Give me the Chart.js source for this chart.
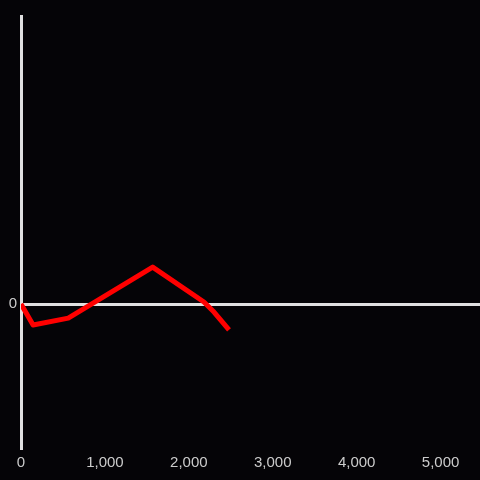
<!DOCTYPE html>
<html><head><meta charset="utf-8">
<script src="https://cdn.jsdelivr.net/npm/chart.js@4"></script>
<style>html,body{margin:0;padding:0;background:#050407;}#w{width:480px;height:480px;}</style>
</head><body><div id="w"><canvas id="c"></canvas></div>
<script>
const xValues = [0, 144, 563, 1569, 2180, 2300, 2479];
const yValues = [0, -0.073, -0.049, 0.128, 0.007, -0.028, -0.09];
const xTicks = [0, 1000, 2000, 3000, 4000, 5000];
const yTicks = [0];

const pts = xValues.map((x, i) => ({x: x, y: yValues[i]}));
new Chart(document.getElementById('c'), {
  type: 'line',
  data: { datasets: [{ data: pts, borderColor: '#ff0000', borderWidth: 5, pointRadius: 0, tension: 0, fill: false, borderJoinStyle: 'round', borderCapStyle: 'butt' }] },
  options: {
    responsive: true, maintainAspectRatio: false, animation: false,
    layout: { padding: { top: 16, right: 0, left: 0, bottom: 0 } },
    plugins: { legend: { display: false }, tooltip: { enabled: false } },
    scales: {
      x: {
        type: 'linear', min: 0, max: 5470,
        afterBuildTicks: s => { s.ticks = xTicks.map(v => ({value: v})); },
        ticks: { color: '#cccccc', font: { family: 'Liberation Sans, Arial', size: 15 }, padding: 6, maxRotation: 0,
          callback: v => v.toLocaleString('en-US') },
        grid: { display: false, drawTicks: false },
        border: { display: false },
        afterFit: s => { s.height = 32; }
      },
      y: {
        min: -0.5, max: 1,
        afterBuildTicks: s => { s.ticks = yTicks.map(v => ({value: v})); },
        ticks: { color: '#cccccc', font: { family: 'Liberation Sans, Arial', size: 15 }, padding: 4 },
        grid: { color: '#e0e0e0', lineWidth: 3, drawTicks: false },
        border: { display: true, color: '#e0e0e0', width: 3 },
        afterFit: s => { s.width = 21; }
      }
    }
  }
});
</script></body></html>
